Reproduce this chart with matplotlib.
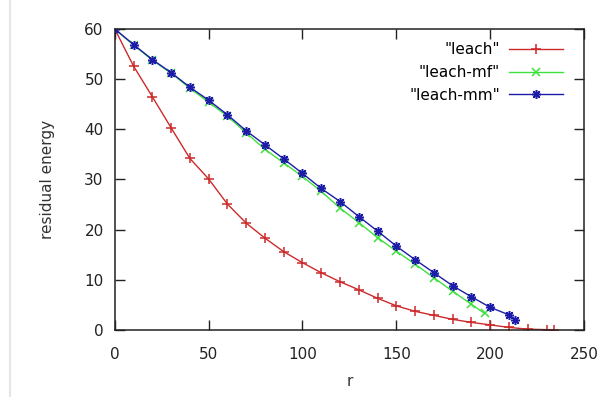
import matplotlib
matplotlib.use("Agg")
import matplotlib.pyplot as plt
from matplotlib.lines import Line2D

# rounds (r) and residual energy for each protocol
r_leach = [0, 10, 20, 30, 40, 50, 60, 70, 80, 90, 100, 110, 120, 130, 140, 150,
           160, 170, 180, 190, 200, 210, 220, 230, 234]
e_leach = [60, 52.6, 46.5, 40.3, 34.2, 30.1, 25.1, 21.3, 18.3, 15.6, 13.4, 11.4,
           9.6, 8.0, 6.3, 4.8, 3.7, 2.9, 2.1, 1.5, 1.0, 0.5, 0.15, 0.05, 0.0]

r_mf = [0, 10, 20, 30, 40, 50, 60, 70, 80, 90, 100, 110, 120, 130, 140, 150,
        160, 170, 180, 190, 197]
e_mf = [60, 56.8, 53.8, 51.2, 48.2, 45.4, 42.6, 39.3, 36.0, 33.3, 30.6, 27.6,
        24.3, 21.4, 18.4, 15.7, 13.1, 10.4, 7.7, 5.1, 3.3]

r_mm = [0, 10, 20, 30, 40, 50, 60, 70, 80, 90, 100, 110, 120, 130, 140, 150,
        160, 170, 180, 190, 200, 210, 213]
e_mm = [60, 56.9, 53.9, 51.3, 48.4, 45.8, 42.9, 39.7, 36.9, 34.1, 31.2, 28.2,
        25.6, 22.6, 19.7, 16.7, 14.0, 11.4, 8.8, 6.6, 4.5, 3.0, 2.0]

x_ticks = [0, 50, 100, 150, 200, 250]
y_ticks = [0, 10, 20, 30, 40, 50, 60]

plt.rcParams['font.family'] = ['DejaVu Sans']
plt.rcParams['font.size'] = 11

fig = plt.figure(figsize=(6.04, 3.97), dpi=100)
ax = fig.add_axes([0.190, 0.169, 0.777, 0.758])

star = (8, 2, 0)
ax.plot(r_leach, e_leach, color='#cc2a2a', lw=1.0, marker='+', ms=6.5, mew=1.1,
        label='"leach"')
ax.plot(r_mf, e_mf, color='#3ee03e', lw=1.0, marker='x', ms=6, mew=1.1,
        label='"leach-mf"')
ax.plot(r_mm, e_mm, color='#1c1ca8', lw=1.0, marker=star, ms=6.5, mew=1.1,
        label='"leach-mm"')

ax.set_xlim(0, 250)
ax.set_ylim(0, 60)
ax.set_xticks(x_ticks)
ax.set_yticks(y_ticks)
ax.tick_params(direction='in', length=7, width=1, top=True, right=True,
               labelsize=11, colors='#222222')
ax.tick_params(axis='x', pad=12.5)
ax.tick_params(axis='y', pad=8)
for s in ax.spines.values():
    s.set_linewidth(1.1)
    s.set_color('#222222')

ax.set_xlabel('r', fontsize=11, color='#333333', labelpad=8.5)
ax.set_ylabel('residual energy', fontsize=11, color='#333333', labelpad=21)

# legend like gnuplot's key: label first, sample to the right
leg = ax.legend(loc='upper right', bbox_to_anchor=(1.0, 1.027), frameon=False,
                markerfirst=False, handlelength=3.5, labelspacing=0.5,
                handletextpad=0.6, borderaxespad=1.0, fontsize=11)

# faint page edge on the left of the screenshot
fig.add_artist(Line2D([0.016, 0.016], [0, 1], color='#e6e6e6', lw=1.5,
                      transform=fig.transFigure))

fig.savefig('out.png', dpi=100)
